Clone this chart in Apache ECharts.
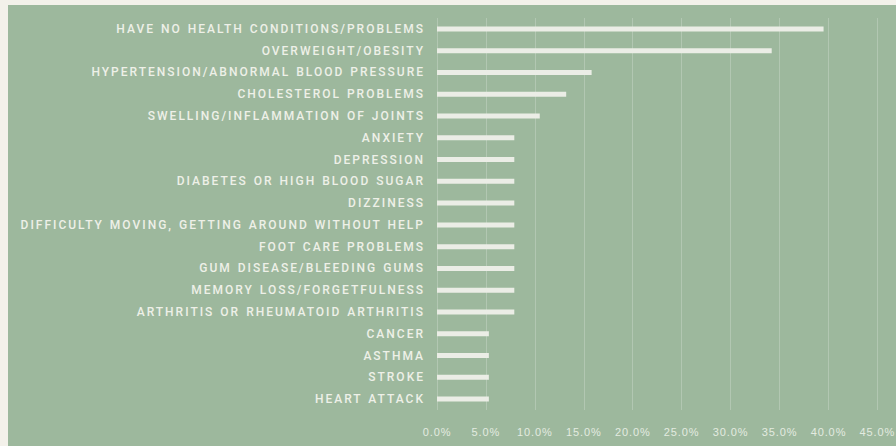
<!DOCTYPE html>
<html>
<head>
<meta charset="utf-8">
<script src="https://cdn.jsdelivr.net/npm/echarts@6/dist/echarts.min.js"></script>
<style>
  html, body { margin: 0; padding: 0; background: #f3f1ea; }
  #chart { position: absolute; left: 8px; top: 5px; width: 888px; height: 441px; background: #9db89d; }
  #chart svg text[text-anchor="end"] { letter-spacing: 2px; word-spacing: 1px; }
  #chart svg text[text-anchor="middle"] { letter-spacing: 0.9px; }
</style>
</head>
<body>
<div id="chart"></div>
<script>
// health conditions, top to bottom
const conditions = [
  'HAVE NO HEALTH CONDITIONS/PROBLEMS',
  'OVERWEIGHT/OBESITY',
  'HYPERTENSION/ABNORMAL BLOOD PRESSURE',
  'CHOLESTEROL PROBLEMS',
  'SWELLING/INFLAMMATION OF JOINTS',
  'ANXIETY',
  'DEPRESSION',
  'DIABETES OR HIGH BLOOD SUGAR',
  'DIZZINESS',
  'DIFFICULTY MOVING, GETTING AROUND WITHOUT HELP',
  'FOOT CARE PROBLEMS',
  'GUM DISEASE/BLEEDING GUMS',
  'MEMORY LOSS/FORGETFULNESS',
  'ARTHRITIS OR RHEUMATOID ARTHRITIS',
  'CANCER',
  'ASTHMA',
  'STROKE',
  'HEART ATTACK'
]
const shares = [39.5, 34.2, 15.8, 13.2, 10.5, 7.9, 7.9, 7.9, 7.9, 7.9, 7.9, 7.9, 7.9, 7.9, 5.3, 5.3, 5.3, 5.3]

const chart = echarts.init(document.getElementById('chart'), null, { renderer: 'svg' })
chart.setOption({
  animation: false,
  grid: { left: 429, right: 17, top: 13, bottom: 36 },
  xAxis: {
    type: 'value',
    min: 0,
    max: 45,
    interval: 5,
    axisLine: { show: false },
    axisTick: { show: false },
    splitLine: { lineStyle: { color: 'rgba(255,255,255,0.22)', width: 1 } },
    axisLabel: {
      color: '#e3ebe0',
      fontFamily: 'Liberation Sans',
      fontSize: 11,
      margin: 16,
      formatter: v => v.toFixed(1) + '%'
    }
  },
  yAxis: {
    type: 'category',
    inverse: true,
    data: conditions,
    axisLine: { show: false },
    axisTick: { show: false },
    axisLabel: {
      color: '#eef0e8',
      fontFamily: 'Roboto',
      fontWeight: 500,
      fontSize: 12,
      margin: 12
    }
  },
  series: [{
    type: 'bar',
    data: shares,
    barWidth: 5,
    itemStyle: { color: '#ebede6' }
  }]
})
</script>
</body>
</html>
